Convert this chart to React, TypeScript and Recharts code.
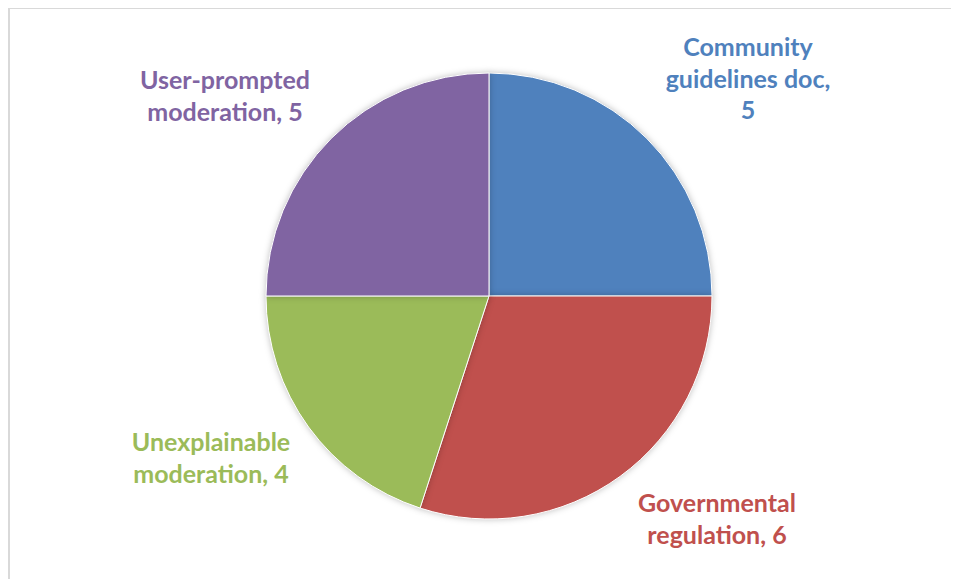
import React from "react";
import { PieChart, Pie, Cell } from "recharts";

const categories = ["Community guidelines doc", "Governmental regulation", "Unexplainable moderation", "User-prompted moderation"];
const values = [5, 6, 4, 5];
const labelLines = [
  ["Community", "guidelines doc,", "5"],
  ["Governmental", "regulation, 6"],
  ["Unexplainable", "moderation, 4"],
  ["User-prompted", "moderation, 5"],
];
const colors = ["#4F81BD", "#C0504D", "#9BBB59", "#8064A2"];

// label layout offsets (relative to pie centre), styling only
const labelOffset = [
  { dx: 259, dy: -248 },
  { dx: 228, dy: 208 },
  { dx: -278, dy: 147 },
  { dx: -264, dy: -215 },
];

const data = categories.map((name, i) => ({ name, value: values[i] }));

const FONT = "Lato, 'Open Sans', sans-serif";

const renderLabel = (props: any) => {
  const { cx, cy, index } = props;
  const off = labelOffset[index];
  const lines = labelLines[index];
  const lh = 31.5;
  return (
    <text
      x={cx + off.dx}
      y={cy + off.dy}
      fill={colors[index]}
      textAnchor="middle"
      fontFamily={FONT}
      fontWeight={700}
      fontSize={25}
    >
      {lines.map((l, j) => (
        <tspan key={j} x={cx + off.dx} dy={j === 0 ? 8 : lh}>
          {l}
        </tspan>
      ))}
    </text>
  );
};

export default function App() {
  return (
    <div
      style={{
        position: "relative",
        width: 960,
        height: 580,
        marginTop: -1,
        borderTop: "2px solid #d9d9d9",
        borderLeft: "2px solid #d9d9d9",
        boxSizing: "border-box",
        background: "#fff",
      }}
    >
      <style>{`html, body { overflow: hidden; } .recharts-pie-sector path { filter: drop-shadow(0 0 3px rgba(0,0,0,0.25)); }`}</style>
      <PieChart width={949} height={570}>
        <Pie
          data={data}
          dataKey="value"
          nameKey="name"
          cx={474}
          cy={282}
          outerRadius={223}
          startAngle={90}
          endAngle={-270}
          stroke="#ffffff"
          strokeWidth={1}
          label={renderLabel}
          labelLine={false}
          isAnimationActive={false}
        >
          {data.map((d, i) => (
            <Cell key={d.name} fill={colors[i]} />
          ))}
        </Pie>
      </PieChart>
    </div>
  );
}
